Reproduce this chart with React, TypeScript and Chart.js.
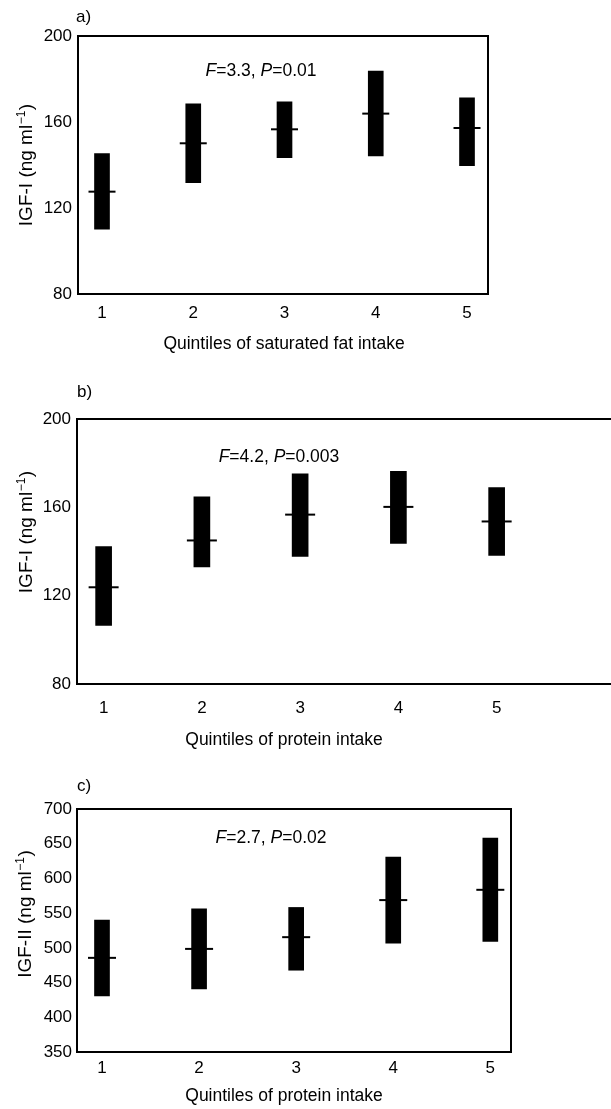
import React, { useEffect, useRef } from "react";
import { Chart, registerables } from "chart.js";

Chart.register(...registerables);

const FONT = '"Liberation Sans", Arial, Helvetica, sans-serif';

// ---- data ----
const quintiles = [1, 2, 3, 4, 5];

// a) IGF-I by quintiles of saturated fat intake
const satFatMean = [127.6, 150.1, 156.6, 163.9, 157.2];
const satFatLow = [110.1, 131.8, 143.4, 144.2, 139.7];
const satFatHigh = [145.3, 168.4, 169.4, 183.7, 171.3];

// b) IGF-I by quintiles of protein intake
const protMean = [123.8, 145.0, 156.7, 160.2, 153.6];
const protLow = [106.5, 133.0, 137.8, 143.7, 138.2];
const protHigh = [142.2, 164.8, 175.2, 176.3, 169.0];

// c) IGF-II by quintiles of protein intake
const igf2Mean = [485.6, 498.5, 515.4, 568.8, 583.6];
const igf2Low = [430.8, 440.9, 467.8, 506.8, 509.2];
const igf2High = [540.0, 556.2, 558.2, 630.8, 658.2];

const igf1Ticks = [80, 120, 160, 200];
const igf2Ticks = [350, 400, 450, 500, 550, 600, 650, 700];

const panelLabels = ["a)", "b)", "c)"];
const statF = ["3.3", "4.2", "2.7"];
const statP = ["0.01", "0.003", "0.02"];
const yTitles = ["IGF-I (ng ml", "IGF-I (ng ml", "IGF-II (ng ml"];
const xTitles = [
  "Quintiles of saturated fat intake",
  "Quintiles of protein intake",
  "Quintiles of protein intake",
];

type Panel = {
  idx: number;
  top: number; width: number; height: number;
  mean: number[]; low: number[]; high: number[];
  yTicks: number[];
  xMin: number; xMax: number;
  padTop: number; padRight: number; yAxisW: number; xAxisH: number;
  xTickPad: number; yTickPad: number;
  barW: number; meanLen: number;
  labelX: number; labelY: number;
  statX: number; statY: number;
  yTitleX: number; yTitleY: number;
  xTitleX: number; xTitleY: number;
};

const panels: Panel[] = [
  {
    idx: 0, top: 0, width: 611, height: 365,
    mean: satFatMean, low: satFatLow, high: satFatHigh, yTicks: igf1Ticks,
    xMin: 0.737, xMax: 5.23, padTop: 36, padRight: 123, yAxisW: 78, xAxisH: 71,
    xTickPad: 9, yTickPad: 6, barW: 15, meanLen: 27,
    labelX: 76, labelY: 17, statX: 261, statY: 71,
    yTitleX: 31.5, yTitleY: 165, xTitleX: 284, xTitleY: 344,
  },
  {
    idx: 1, top: 365, width: 640, height: 395,
    mean: protMean, low: protLow, high: protHigh, yTicks: igf1Ticks,
    xMin: 0.729, xMax: 6.286, padTop: 54, padRight: 10, yAxisW: 77, xAxisH: 76,
    xTickPad: 14, yTickPad: 6, barW: 16, meanLen: 30,
    labelX: 77, labelY: 27, statX: 279, statY: 92,
    yTitleX: 32, yTitleY: 167, xTitleX: 284, xTitleY: 375,
  },
  {
    idx: 2, top: 760, width: 611, height: 349,
    mean: igf2Mean, low: igf2Low, high: igf2High, yTicks: igf2Ticks,
    xMin: 0.7425, xMax: 5.213, padTop: 49, padRight: 100, yAxisW: 77, xAxisH: 57,
    xTickPad: 6, yTickPad: 5, barW: 15, meanLen: 28,
    labelX: 77, labelY: 26, statX: 271, statY: 78,
    yTitleX: 30.5, yTitleY: 154, xTitleX: 284, xTitleY: 336,
  },
];

function makeDecor(p: Panel) {
  return {
    id: "decor",
    afterDraw(chart: any) {
      const { ctx, chartArea: a } = chart;
      ctx.save();
      // frame
      ctx.strokeStyle = "#000";
      ctx.lineWidth = 2;
      ctx.strokeRect(a.left, a.top, a.right - a.left, a.bottom - a.top);
      ctx.fillStyle = "#000";

      // panel label
      ctx.font = `17px ${FONT}`;
      ctx.textAlign = "left";
      ctx.textBaseline = "middle";
      ctx.fillText(panelLabels[p.idx], p.labelX, p.labelY);

      // statistic annotation
      const parts = [
        { t: "F", it: true },
        { t: "=" + statF[p.idx] + ", ", it: false },
        { t: "P", it: true },
        { t: "=" + statP[p.idx], it: false },
      ];
      const fontOf = (it: boolean) => `${it ? "italic " : ""}17.5px ${FONT}`;
      let total = 0;
      for (const pt of parts) {
        ctx.font = fontOf(pt.it);
        total += ctx.measureText(pt.t).width;
      }
      let x = p.statX - total / 2;
      for (const pt of parts) {
        ctx.font = fontOf(pt.it);
        ctx.fillText(pt.t, x, p.statY);
        x += ctx.measureText(pt.t).width;
      }

      // x axis title
      ctx.font = `17.5px ${FONT}`;
      ctx.textAlign = "center";
      ctx.fillText(xTitles[p.idx], p.xTitleX, p.xTitleY);

      // y axis title (rotated, with superscript)
      const main = yTitles[p.idx];
      const sup = "\u22121";
      const close = ")";
      const mainFont = `19px ${FONT}`;
      const supFont = `12px ${FONT}`;
      ctx.font = mainFont;
      const wMain = ctx.measureText(main).width;
      const wClose = ctx.measureText(close).width;
      ctx.font = supFont;
      const wSup = ctx.measureText(sup).width;
      const w = wMain + wSup + wClose + 1;
      ctx.translate(p.yTitleX, p.yTitleY);
      ctx.rotate(-Math.PI / 2);
      ctx.textAlign = "left";
      ctx.textBaseline = "alphabetic";
      let u = -w / 2;
      ctx.font = mainFont;
      ctx.fillText(main, u, 0);
      u += wMain + 0.5;
      ctx.font = supFont;
      ctx.fillText(sup, u, -7);
      u += wSup + 0.5;
      ctx.font = mainFont;
      ctx.fillText(close, u, 0);
      ctx.restore();
    },
  };
}

function PanelChart({ p }: { p: Panel }) {
  const ref = useRef<HTMLCanvasElement>(null);
  useEffect(() => {
    if (!ref.current) return;
    const chart = new Chart(ref.current, {
      type: "bar",
      data: {
        datasets: [
          {
            type: "bar",
            data: quintiles.map((q, i) => ({ x: q, y: [p.low[i], p.high[i]] })) as any,
            backgroundColor: "#000",
            borderWidth: 0,
            barThickness: p.barW,
          } as any,
          {
            type: "line",
            data: quintiles.map((q, i) => ({ x: q, y: p.mean[i] })) as any,
            showLine: false,
            pointStyle: "line",
            pointRadius: p.meanLen / 2,
            pointHoverRadius: p.meanLen / 2,
            borderColor: "#000",
            pointBorderColor: "#000",
            borderWidth: 2,
            pointBorderWidth: 2,
          } as any,
        ],
      },
      options: {
        animation: false,
        responsive: false,
        events: [],
        layout: { padding: { top: p.padTop, right: p.padRight, left: 0, bottom: 0 } },
        plugins: { legend: { display: false }, tooltip: { enabled: false } },
        scales: {
          x: {
            type: "linear",
            offset: false,
            min: p.xMin,
            max: p.xMax,
            grid: { display: false, drawTicks: false, offset: false },
            border: { display: false },
            afterBuildTicks: (s: any) => {
              s.ticks = quintiles.map((v) => ({ value: v }));
            },
            afterFit: (s: any) => {
              s.height = p.xAxisH;
            },
            ticks: {
              padding: p.xTickPad,
              color: "#000",
              font: { size: 17, family: FONT },
              maxRotation: 0,
              callback: (v: any) => String(v),
            },
          },
          y: {
            type: "linear",
            min: p.yTicks[0],
            max: p.yTicks[p.yTicks.length - 1],
            grid: { display: false, drawTicks: false },
            border: { display: false },
            afterBuildTicks: (s: any) => {
              s.ticks = p.yTicks.map((v) => ({ value: v }));
            },
            afterFit: (s: any) => {
              s.width = p.yAxisW;
            },
            ticks: {
              padding: p.yTickPad,
              color: "#000",
              font: { size: 17, family: FONT },
              callback: (v: any) => String(v),
            },
          },
        },
      } as any,
      plugins: [makeDecor(p)],
    });
    return () => chart.destroy();
  }, [p]);
  return (
    <div style={{ position: "absolute", left: 0, top: p.top, width: p.width, height: p.height }}>
      <canvas
        ref={ref}
        width={p.width}
        height={p.height}
        style={{ display: "block", width: p.width, height: p.height }}
      />
    </div>
  );
}

export default function App() {
  return (
    <div
      style={{
        position: "absolute",
        left: 0,
        top: 0,
        width: 611,
        height: 1109,
        overflow: "hidden",
        background: "#fff",
      }}
    >
      {panels.map((p) => (
        <PanelChart key={p.idx} p={p} />
      ))}
    </div>
  );
}
